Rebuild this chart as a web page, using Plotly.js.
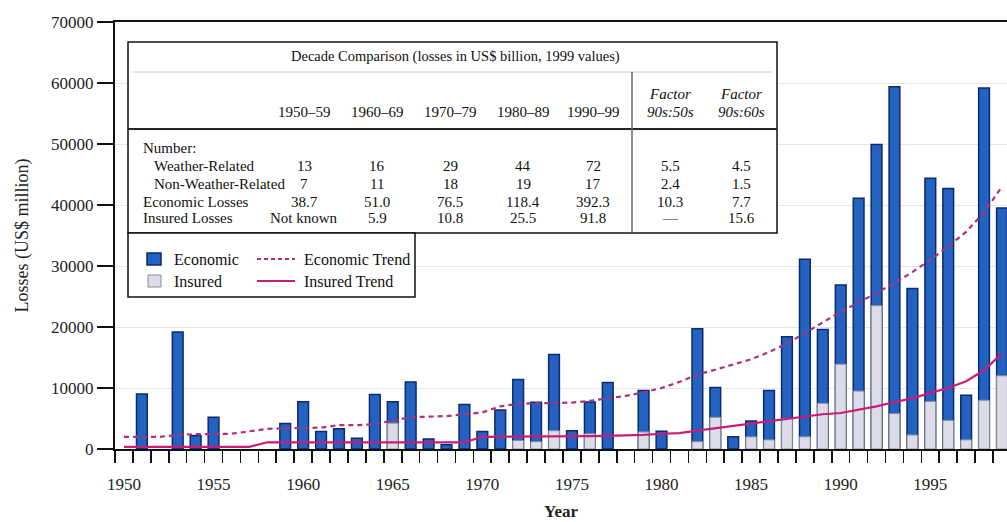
<!DOCTYPE html>
<html>
<head>
<meta charset="utf-8">
<script src="https://cdn.plot.ly/plotly-3.0.1.min.js"></script>
<style>html,body{margin:0;padding:0;background:#fff}#chart{width:1007px;height:522px}</style>
</head>
<body>
<div id="chart"></div>
<script>
// ---------- DATA ----------
const years = [1950,1951,1952,1953,1954,1955,1956,1957,1958,1959,
               1960,1961,1962,1963,1964,1965,1966,1967,1968,1969,
               1970,1971,1972,1973,1974,1975,1976,1977,1978,1979,
               1980,1981,1982,1983,1984,1985,1986,1987,1988,1989,
               1990,1991,1992,1993,1994,1995,1996,1997,1998,1999];

// US$ million
const economicLosses = [null,9000,null,19200,2200,5200,null,null,null,4200,
                        7750,2850,3300,1750,8950,7750,11000,1640,700,7300,
                        2850,6400,11400,7650,15500,3000,7700,10900,null,9600,
                        2900,null,19700,10100,2000,4600,9600,18400,31100,19600,
                        26900,41100,49900,59400,26300,44400,42700,8800,59200,39500];

const insuredLosses = [null,null,null,null,null,null,null,null,null,null,
                       null,null,null,null,null,4250,null,null,null,null,
                       null,null,1400,1200,3000,null,2500,null,null,2800,
                       null,null,1200,5200,null,2000,1500,5000,2000,7500,
                       13900,9500,23500,5800,2300,7800,4700,1500,8000,12000];

const economicTrend = [2000,2000,2000,2300,2450,2450,2500,2900,3300,3400,
                       3400,3500,3900,3900,4100,4700,5200,5300,5400,5700,
                       6000,7000,7400,7500,7500,7600,7900,8300,8700,9300,
                       10000,11000,12200,13000,13800,14700,15900,17300,19000,20800,
                       22500,24000,25600,27200,29000,31000,33200,35600,38800,43000];

const insuredTrend = [350,350,350,350,350,350,350,350,1100,1100,
                      1100,1100,1100,1100,1100,1100,1100,1100,1100,1100,
                      2000,2000,2000,2000,2000,2050,2100,2150,2200,2300,
                      2500,2600,3000,3400,3700,4100,4500,4900,5400,5700,
                      5900,6400,7000,7700,8300,9200,10000,11100,12900,15700];

const xTickVals = [1950,1955,1960,1965,1970,1975,1980,1985,1990,1995];
const xTickText = ['1950','1955','1960','1965','1970','1975','1980','1985','1990','1995'];

// Table
const tableTitle = 'Decade Comparison (losses in US$ billion, 1999 values)';
const decadeHeaders = ['1950–59','1960–69','1970–79','1980–89','1990–99'];
const factorHeaders = [['Factor','90s:50s'],['Factor','90s:60s']];
const rowLabels = ['Number:','Weather-Related','Non-Weather-Related','Economic Losses','Insured Losses'];
const rowWeather    = ['13','16','29','44','72','5.5','4.5'];
const rowNonWeather = ['7','11','18','19','17','2.4','1.5'];
const rowEconomic   = ['38.7','51.0','76.5','118.4','392.3','10.3','7.7'];
const rowInsured    = ['Not known','5.9','10.8','25.5','91.8','—','15.6'];

const legendLabels = ['Economic','Insured','Economic Trend','Insured Trend'];

// ---------- STYLE ----------
const FONT = '"Liberation Serif", "Times New Roman", serif';
const C_ECON = '#2462c2', C_ECON_LINE = '#0c2a6e';
const C_INS = '#dcdce8', C_INS_LINE = '#8a8a9c';
const C_ETREND = '#b0307a', C_ITREND = '#c81c78';
const TFS = 15; // table font size

// pixel -> paper helpers (plot area: x 115..1007, y 22..449)
const PL = 115, PR = 1007, PT = 22, PB = 449;
const px = x => (x - PL) / (PR - PL);
const py = y => (PB - y) / (PB - PT);

const data = [
  {type:'bar', x:years, y:economicLosses, width:0.6, name:'Economic',
   marker:{color:C_ECON, line:{color:C_ECON_LINE, width:1.5}}, hoverinfo:'skip'},
  {type:'bar', x:years, y:insuredLosses, width:0.6, name:'Insured',
   marker:{color:C_INS, line:{color:C_INS_LINE, width:1}}, hoverinfo:'skip'},
  {type:'scatter', mode:'lines', x:years, y:economicTrend, name:'Economic Trend',
   line:{color:C_ETREND, width:2.2, dash:'5px,4px'}, hoverinfo:'skip'},
  {type:'scatter', mode:'lines', x:years, y:insuredTrend, name:'Insured Trend',
   line:{color:C_ITREND, width:2.2}, hoverinfo:'skip'}
];

const shapes = [];
const annotations = [];
function rect(x0,y0,x1,y1,fill,lc,lw){
  shapes.push({type:'rect', xref:'paper', yref:'paper', x0:px(x0), x1:px(x1), y0:py(y1), y1:py(y0),
    fillcolor:fill, line:{color:lc, width:lw}, layer:'above'});
}
function line(x0,y0,x1,y1,lc,lw,dash){
  shapes.push({type:'line', xref:'paper', yref:'paper', x0:px(x0), x1:px(x1), y0:py(y0), y1:py(y1),
    line:{color:lc, width:lw, dash:dash||'solid'}, layer:'above'});
}
function text(t,x,y,anchor,size,opts){
  annotations.push(Object.assign({text:t, xref:'paper', yref:'paper', x:px(x), y:py(y),
    xanchor:anchor||'center', yanchor:'middle', showarrow:false,
    font:{family:FONT, size:size||14, color:'#111'}}, opts||{}));
}

// table frame
rect(128,42,777,233,'#ffffff','#111',1.5);
line(133,72,772,72,'#c4c4c4',1);
line(128,129,777,129,'#222',2);
line(632,72,632,233,'#666',1.5);
// legend frame
rect(128,233,415,297,'#ffffff','#111',1.5);

// table text
text(tableTitle,455,57,'center',14.5);
const colX = [304,377,450,523,593,670,741];
decadeHeaders.forEach((h,i)=>text(h,colX[i],112,'center',TFS));
factorHeaders.forEach((h,i)=>{
  text('<i>'+h[0]+'</i>',colX[5+i],94,'center',TFS);
  text('<i>'+h[1]+'</i>',colX[5+i],112,'center',TFS);
});
const rowY = [148,166,184,202,218];
const rowIndent = [141,152,152,141,141];
rowLabels.forEach((r,i)=>text(r,rowIndent[i],rowY[i],'left',TFS));
[null,rowWeather,rowNonWeather,rowEconomic,rowInsured].forEach((row,ri)=>{
  if(!row) return;
  row.forEach((v,ci)=>text(v,colX[ci],rowY[ri],'center',TFS));
});

// legend
rect(147,253,161,265,C_ECON,C_ECON_LINE,1.5);
rect(148,275,161,287,C_INS,C_INS_LINE,1);
line(257,259,295,259,C_ETREND,2,'4px,3px');
line(257,281,295,281,C_ITREND,2);
text(legendLabels[0],172,259,'left',16);
text(legendLabels[1],172,281,'left',16);
text(legendLabels[2],302,259,'left',16);
text(legendLabels[3],302,281,'left',16);

const layout = {
  width:1007, height:522,
  margin:{l:PL, r:0, t:PT, b:522-PB},
  paper_bgcolor:'#ffffff', plot_bgcolor:'#ffffff',
  font:{family:FONT, size:17, color:'#222'},
  barmode:'overlay', showlegend:false,
  xaxis:{
    range:[1949.5,1999.28], tickmode:'array', tickvals:xTickVals, ticktext:xTickText,
    ticks:'outside', ticklen:19, tickcolor:'rgba(0,0,0,0)',
    minor:{tickmode:'linear', tick0:1949.5, dtick:1, ticks:'outside', ticklen:12, tickcolor:'#111', tickwidth:1.6, showgrid:false},
    showline:true, linecolor:'#111', linewidth:2, mirror:true,
    showgrid:false, zeroline:false,
    title:{text:'<b>Year</b>', font:{family:FONT, size:17, color:'#222'}, standoff:12}
  },
  yaxis:{
    range:[0,70000], tickmode:'linear', tick0:0, dtick:10000, tickformat:'d',
    ticks:'outside', ticklen:16, tickwidth:1.5, tickcolor:'#111',
    showline:true, linecolor:'#111', linewidth:2,
    showgrid:true, gridcolor:'#e6e6e6', gridwidth:1, zeroline:false,
    title:{text:'Losses (US$ million)', font:{family:FONT, size:18, color:'#222'}, standoff:18}
  },
  shapes:shapes,
  annotations:annotations
};

Plotly.newPlot('chart', data, layout, {displayModeBar:false, staticPlot:true});
</script>
</body>
</html>
